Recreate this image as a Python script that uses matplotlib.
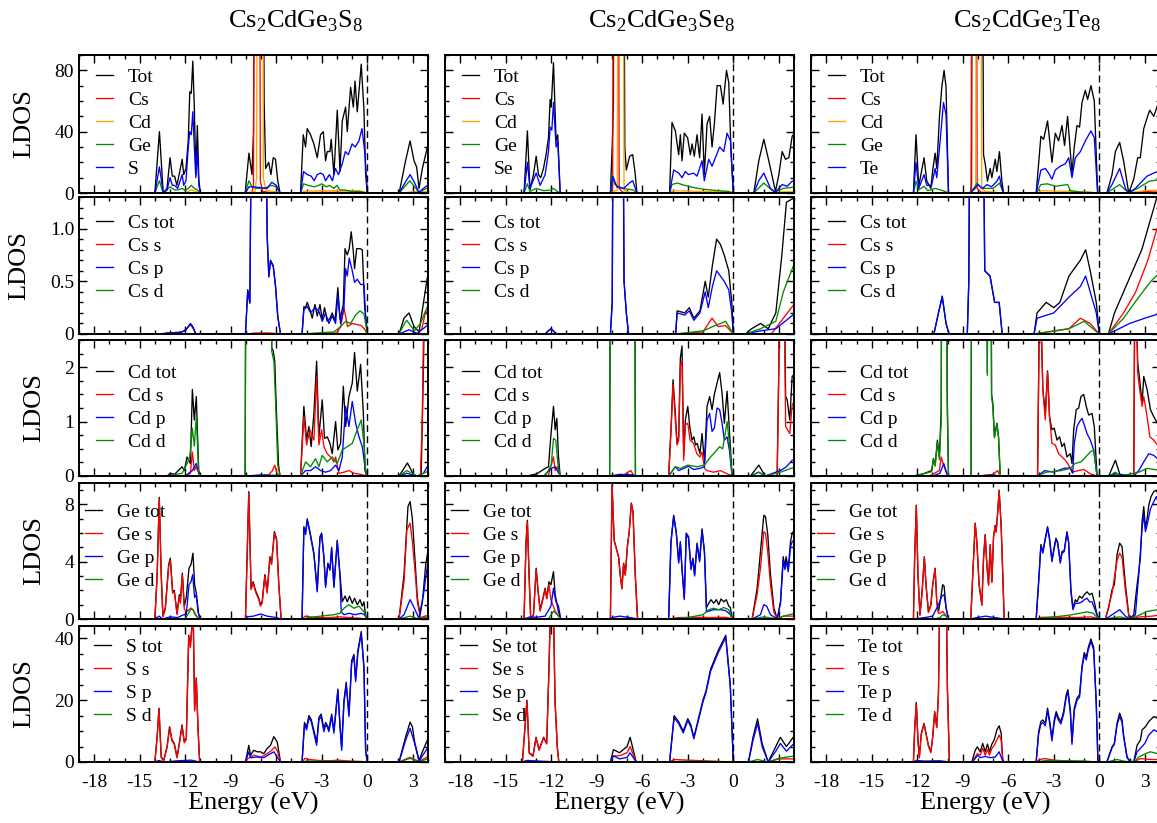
import numpy as np
import matplotlib.pyplot as plt
from matplotlib.ticker import MultipleLocator

plt.rcParams['font.family'] = ['Liberation Serif', 'DejaVu Serif']
plt.rcParams['mathtext.fontset'] = 'custom'
plt.rcParams['mathtext.rm'] = 'Liberation Serif'
plt.rcParams['axes.unicode_minus'] = False

# ---------------- data: (energy eV, LDOS) ----------------
# column 1 : Cs2CdGe3S8
S8_TOT = [(-14.0,0),(-13.7,40),(-13.45,0),(-13.2,3),(-13.0,23),(-12.85,11),(-12.7,11),(-12.55,5),(-12.4,12),(-12.2,22),(-12.1,12),(-11.95,16),(-11.8,34),(-11.7,66),(-11.6,65),(-11.5,86),(-11.4,56),(-11.3,12),(-11.2,44),(-11.1,8),(-11.0,0),
          (-8.05,0),(-7.8,26),(-7.6,12),(-7.5,40),(-7.4,300),(-6.9,300),(-6.8,60),(-6.7,16),(-6.5,20),(-6.35,12),(-6.2,23),(-6.05,22),(-5.9,8),(-5.75,0),
          (-4.4,0),(-4.22,38),(-4.07,30),(-3.96,42),(-3.74,38),(-3.52,32),(-3.3,23),(-3.08,38),(-2.9,40),(-2.75,21),(-2.64,27),(-2.46,27),(-2.38,35),(-2.2,12),(-1.98,54),(-1.8,14),(-1.65,47),(-1.43,56),(-1.32,40),(-1.1,69),(-0.92,56),(-0.81,73),(-0.66,53),(-0.4,84),(-0.22,54),(-0.11,12),(0.0,0),
          (2.1,0),(2.5,20),(2.82,34),(3.08,21),(3.25,17),(3.41,3),(3.63,16),(3.96,30),(4.1,32)]
S8_CS = [(-8.0,0),(-7.6,0.5),(-7.5,5),(-7.42,300),(-7.12,300),(-7.05,8),(-6.9,1),(-6.5,0.5),(-6.0,0),(-4.4,0),(-3.0,0.5),(-1.0,0.5),(0,0),(2.1,0),(3.0,0.5),(4.1,1)]
S8_CD = [(-12.0,0),(-11.6,2),(-11.0,0),(-8.0,0),(-7.4,1),(-7.3,10),(-7.22,300),(-6.92,300),(-6.85,10),(-6.7,2),(-6.0,0.5),(-5.7,0),(-4.4,0),(-4.2,1),(-3.0,1.5),(-1.5,1.5),(-0.5,1.5),(0,0),(2.1,0),(3.0,0.5),(4.1,1)]
S8_GE = [(-14.0,0),(-13.7,8),(-13.45,0),(-13.0,4),(-12.7,2),(-12.5,2),(-12.2,3),(-12.0,1.5),(-11.8,3),(-11.6,5),(-11.4,3),(-11.2,2),(-11.0,0),(-8.05,0),(-7.8,8),(-7.6,4),(-7.3,3),(-6.8,3),(-6.3,5),(-6.0,4),(-5.75,0),
         (-4.4,0),(-4.2,6),(-3.9,5),(-3.5,4),(-3.2,5),(-3.0,6),(-2.7,4),(-2.5,5),(-2.2,3),(-2.0,5),(-1.8,2),(-1.5,2),(-1.0,1),(-0.5,1),(0,0),(2.1,0),(2.8,8),(3.4,0.5),(4.1,4)]
S8_S = [(-14.0,0),(-13.7,17),(-13.45,0),(-13.2,2),(-13.0,10),(-12.85,5),(-12.7,5),(-12.5,3),(-12.2,12),(-12.1,5),(-11.95,8),(-11.8,30),(-11.7,40),(-11.6,38),(-11.5,53),(-11.4,30),(-11.3,10),(-11.2,28),(-11.1,5),(-11.0,0),
        (-8.05,0),(-7.8,4),(-7.5,4),(-7.0,3.5),(-6.6,3),(-6.3,7),(-6.0,5),(-5.75,0),
        (-4.4,0),(-4.2,14),(-3.96,12),(-3.7,11),(-3.5,8),(-3.3,12),(-3.08,13),(-2.9,12),(-2.75,8),(-2.5,12),(-2.3,8),(-2.1,16),(-1.9,12),(-1.65,19),(-1.45,27),(-1.25,25),(-1.0,32),(-0.8,30),(-0.55,34),(-0.35,42),(-0.15,25),(0,0),
        (2.1,0),(2.5,7),(2.82,12),(3.1,7),(3.4,0.5),(3.7,3),(4.1,6)]

S8_CS_TOT = [(-13.6,0),(-13.2,0.01),(-12.5,0.01),(-12.0,0.03),(-11.8,0.07),(-11.66,0.1),(-11.5,0.07),(-11.3,0),(-8.03,0),(-7.88,0.42),(-7.74,0.3),(-7.59,3),(-6.75,3),(-6.6,0.94),(-6.49,0.55),(-6.38,0.7),(-6.2,0.65),(-6.05,0.46),(-5.9,0.17),(-5.72,0),
             (-4.3,0),(-4.18,0.26),(-4.07,0.25),(-3.96,0.3),(-3.78,0.23),(-3.63,0.15),(-3.45,0.28),(-3.3,0.17),(-3.12,0.28),(-2.97,0.135),(-2.82,0.25),(-2.64,0.12),(-2.46,0.15),(-2.31,0.2),(-2.13,0.12),(-1.94,0.44),(-1.8,0.14),(-1.58,0.28),(-1.47,0.81),(-1.32,0.75),(-1.19,0.81),(-1.06,0.97),(-0.92,0.78),(-0.84,0.62),(-0.7,0.81),(-0.48,0.81),(-0.33,0.8),(-0.18,0.27),(0,0),
             (2.09,0),(2.42,0.15),(2.75,0.2),(3.08,0.07),(3.41,0.02),(3.63,0.23),(3.96,0.54),(4.1,0.56)]
S8_CS_S = [(-8.0,0),(-7.3,0.01),(-6.5,0.01),(-5.7,0),(-4.3,0),(-2.0,0.01),(-1.75,0.07),(-1.54,0.25),(-1.3,0.07),(-1.0,0.1),(-0.7,0.09),(-0.4,0.08),(-0.2,0.05),(0,0),(3.3,0),(3.6,0.05),(3.85,0.22),(4.1,0.15)]
S8_CS_P = [(-13.5,0),(-13.0,0.01),(-12.2,0.02),(-11.9,0.05),(-11.66,0.09),(-11.5,0.06),(-11.3,0),(-8.03,0),(-7.88,0.41),(-7.74,0.29),(-7.59,3),(-6.75,3),(-6.6,0.93),(-6.49,0.54),(-6.38,0.69),(-6.2,0.64),(-6.05,0.45),(-5.9,0.16),(-5.72,0),
           (-4.3,0),(-4.18,0.23),(-3.96,0.26),(-3.74,0.2),(-3.45,0.25),(-3.2,0.22),(-2.97,0.12),(-2.75,0.2),(-2.53,0.1),(-2.31,0.17),(-2.09,0.1),(-1.94,0.36),(-1.76,0.1),(-1.54,0.25),(-1.43,0.62),(-1.32,0.55),(-1.19,0.72),(-0.99,0.6),(-0.84,0.49),(-0.66,0.52),(-0.44,0.47),(-0.22,0.47),(-0.11,0.17),(0,0),
           (2.09,0),(2.75,0.04),(3.3,0.005),(4.1,0.1)]
S8_CS_D = [(-4.3,0),(-3.3,0.01),(-2.2,0.02),(-1.76,0.07),(-1.43,0.12),(-1.1,0.1),(-0.77,0.18),(-0.48,0.22),(-0.22,0.19),(0,0),(2.09,0),(2.42,0.09),(2.6,0.13),(3.1,0.03),(3.5,0.1),(3.96,0.26),(4.1,0.2)]

S8_CD_TOT = [(-13.2,0),(-12.98,0.05),(-12.7,0.03),(-12.21,0.17),(-12.06,0.1),(-11.88,0.35),(-11.66,0.23),(-11.53,1.59),(-11.4,1.03),(-11.27,1.46),(-11.11,0.1),(-11.0,0),(-8.05,0),(-7.95,10),(-6.45,10),(-6.3,2.36),(-6.2,2.3),(-6.1,2.11),(-6.0,1.28),(-5.85,0.2),(-5.75,0),
             (-4.4,0),(-4.18,1.28),(-4.0,0.66),(-3.85,0.91),(-3.7,0.54),(-3.52,1.15),(-3.34,2.11),(-3.19,0.72),(-2.97,1.4),(-2.82,0.69),(-2.64,0.72),(-2.46,0.6),(-2.31,0.41),(-2.09,1.0),(-1.94,0.48),(-1.76,0.6),(-1.58,1.65),(-1.43,0.91),(-1.21,1.46),(-0.99,1.71),(-0.84,2.27),(-0.66,1.56),(-0.44,2.05),(-0.26,1.15),(-0.15,0.1),(0,0),
             (2.1,0),(2.64,0.24),(3.1,0),(3.55,0),(3.7,2.0),(3.8,4),(4.1,4)]
S8_CD_S = [(-12.0,0),(-11.66,0.05),(-11.53,0.44),(-11.4,0.1),(-11.27,0.17),(-11.05,0),(-8.0,0),(-6.5,0.02),(-6.25,0.1),(-6.1,0.2),(-5.95,0.05),(-5.75,0),
           (-4.4,0),(-4.18,1.09),(-4.0,0.57),(-3.78,0.85),(-3.52,0.66),(-3.34,1.83),(-3.19,0.57),(-3.01,0.85),(-2.86,0.54),(-2.64,0.41),(-2.42,0.35),(-2.2,0.26),(-2.09,0.35),(-1.87,0.05),(-1.54,0.07),(-1.21,0.1),(-0.88,0.05),(-0.44,0.03),(0,0),(3.5,0),(3.62,1.0),(3.72,3),(4.1,4)]
S8_CD_P = [(-12.0,0),(-11.53,0.1),(-11.27,0.23),(-11.05,0),(-8.0,0),(-7.0,0.02),(-6.0,0.01),(-5.75,0),(-4.4,0),(-4.07,0.1),(-3.74,0.1),(-3.41,0.17),(-3.08,0.1),(-2.75,0.07),(-2.42,0.1),(-2.09,0.2),(-1.87,0.1),(-1.65,0.35),(-1.43,1.28),(-1.21,0.91),(-0.99,1.37),(-0.77,0.97),(-0.55,0.72),(-0.33,0.54),(-0.18,0.23),(-0.05,0),
           (2.1,0),(2.6,0.05),(3.3,0.0),(3.7,0.05),(4.1,0.25)]
S8_CD_D = [(-13.2,0),(-12.2,0.05),(-11.88,0.23),(-11.7,0.35),(-11.53,0.88),(-11.4,0.55),(-11.27,1.09),(-11.11,0.04),(-11.0,0),(-8.05,0),(-7.95,10),(-6.45,10),(-6.3,2.3),(-6.15,2.1),(-6.05,1.4),(-5.9,0.2),(-5.75,0),
           (-4.4,0),(-4.07,0.26),(-3.74,0.17),(-3.41,0.32),(-3.19,0.17),(-2.97,0.38),(-2.64,0.26),(-2.31,0.35),(-1.98,0.23),(-1.65,0.48),(-1.32,0.54),(-0.99,0.6),(-0.66,0.85),(-0.4,1.03),(-0.22,0.6),(-0.11,0.1),(0,0),(2.1,0),(2.6,0.1),(3.3,0),(4.1,0.1)]

S8_GE_TOT = [(-14.0,0),(-13.85,3.1),(-13.71,8.5),(-13.58,3.1),(-13.47,0.2),(-13.31,0.8),(-13.09,3.8),(-12.98,4.25),(-12.83,1.9),(-12.72,2.0),(-12.54,0.4),(-12.39,1.7),(-12.32,1.2),(-12.19,3.2),(-12.06,0.9),(-11.93,1.5),(-11.75,3.55),(-11.62,3.8),(-11.49,4.6),(-11.38,2.4),(-11.27,1.8),(-11.11,0.3),(-11.0,0),
             (-8.03,0),(-7.81,8.9),(-7.66,2.15),(-7.52,2.6),(-7.37,2.0),(-7.15,1.45),(-7.04,1.0),(-6.93,1.2),(-6.75,3.1),(-6.6,1.9),(-6.42,4.35),(-6.31,3.9),(-6.12,6.1),(-5.98,5.6),(-5.83,2.4),(-5.68,0),
             (-4.3,0),(-4.18,6.45),(-4.07,6.0),(-3.96,7.0),(-3.78,6.1),(-3.52,4.6),(-3.3,2.0),(-3.12,5.75),(-3.01,6.0),(-2.86,4.35),(-2.75,2.3),(-2.6,3.9),(-2.46,3.5),(-2.35,5.0),(-2.2,2.3),(-1.98,5.5),(-1.8,3.1),(-1.65,1.2),(-1.47,1.6),(-1.32,1.2),(-1.17,1.6),(-0.99,1.1),(-0.84,1.45),(-0.66,1.0),(-0.48,1.35),(-0.33,0.9),(-0.22,1.2),(-0.11,0.2),(0,0),
             (2.09,0),(2.42,3.1),(2.68,7.85),(2.82,8.2),(2.97,7.0),(3.15,4.0),(3.3,1.45),(3.48,0.3),(3.63,1.2),(3.85,3.8),(4.0,4.8),(4.1,5.0)]
S8_GE_S = [(-14.0,0),(-13.85,3.0),(-13.71,8.4),(-13.58,3.0),(-13.47,0.15),(-13.31,0.7),(-13.09,3.7),(-12.98,4.1),(-12.83,1.8),(-12.72,1.9),(-12.54,0.3),(-12.39,1.6),(-12.32,1.1),(-12.19,3.1),(-12.06,0.7),(-11.93,0.5),(-11.8,0.6),(-11.62,0.77),(-11.49,0.65),(-11.35,0.3),(-11.11,0.05),(-11.0,0),
           (-8.03,0),(-7.81,8.8),(-7.66,2.05),(-7.52,2.5),(-7.37,1.9),(-7.15,1.35),(-7.04,0.9),(-6.93,1.1),(-6.75,3.0),(-6.6,1.8),(-6.42,4.25),(-6.31,3.8),(-6.12,6.0),(-5.98,5.5),(-5.83,2.3),(-5.68,0),
           (-4.3,0),(-4.1,0.2),(-3.8,0.15),(-3.2,0.1),(-2.5,0.1),(-1.8,0.15),(-1.2,0.1),(-0.5,0.05),(0,0),(2.09,0),(2.42,2.6),(2.6,6.2),(2.82,6.7),(2.97,5.4),(3.15,3.3),(3.3,1.2),(3.5,0.1),(4.1,0.3)]
S8_GE_P = [(-14.0,0),(-13.71,0.2),(-13.5,0),(-13.0,0.15),(-12.5,0.1),(-12.1,0.3),(-11.93,0.3),(-11.75,2.4),(-11.62,2.6),(-11.51,3.1),(-11.38,1.5),(-11.27,1.7),(-11.16,0.5),(-11.0,0),(-8.03,0),(-7.9,0.15),(-7.5,0.2),(-7.04,0.35),(-6.6,0.2),(-6.0,0.1),(-5.68,0),
           (-4.3,0),(-4.18,6.35),(-4.07,5.9),(-3.96,6.9),(-3.78,6.0),(-3.52,4.5),(-3.3,1.9),(-3.12,5.65),(-3.01,5.9),(-2.86,4.25),(-2.75,2.2),(-2.6,3.8),(-2.46,3.4),(-2.35,4.9),(-2.2,2.2),(-1.98,5.4),(-1.8,3.0),(-1.72,0.5),(-1.54,0.3),(-1.2,0.4),(-0.8,0.3),(-0.4,0.4),(-0.2,0.3),(0,0),
           (2.09,0),(2.42,0.3),(2.82,1.35),(3.08,0.8),(3.4,0.05),(3.7,1.7),(4.0,4.0),(4.1,4.2)]
S8_GE_D = [(-12.0,0),(-11.62,0.7),(-11.49,0.65),(-11.2,0.1),(-11.0,0),(-4.3,0),(-3.5,0.15),(-2.2,0.3),(-1.8,0.4),(-1.54,0.75),(-1.21,1.0),(-0.88,0.75),(-0.55,0.9),(-0.22,0.5),(0,0),(2.09,0),(2.82,0.2),(3.4,0),(4.1,0.2)]

S8_S_TOT = [(-14.0,0),(-13.85,8.2),(-13.73,17.4),(-13.58,1.6),(-13.42,0.5),(-13.2,4.9),(-13.03,11.4),(-12.87,7.1),(-12.72,6.0),(-12.54,1.6),(-12.39,6.0),(-12.21,12),(-12.06,6.5),(-11.93,7.6),(-11.77,41),(-11.66,37.6),(-11.55,44.7),(-11.47,47),(-11.38,16.9),(-11.27,27.2),(-11.16,11.4),(-11.05,0),
            (-8.03,0),(-7.81,5.4),(-7.7,2.2),(-7.48,3.8),(-7.26,3.3),(-7.04,3.3),(-6.82,2.7),(-6.6,4.4),(-6.38,5.4),(-6.16,8.2),(-5.94,6.5),(-5.72,0),
            (-4.3,0),(-4.14,12.8),(-4.0,11.2),(-3.85,15),(-3.7,13.8),(-3.52,10.2),(-3.34,6.2),(-3.19,14.4),(-3.04,15.5),(-2.86,10.6),(-2.75,12.8),(-2.64,11.8),(-2.53,10.6),(-2.35,15.5),(-2.2,10.1),(-1.94,23.6),(-1.8,12.2),(-1.69,4.6),(-1.54,19.8),(-1.39,25.8),(-1.21,15.5),(-1.03,32.8),(-0.88,34.8),(-0.77,26.8),(-0.62,36.2),(-0.4,42.2),(-0.22,30.8),(-0.11,3.8),(0,0),
            (2.09,0),(2.53,8.2),(2.82,12.9),(2.97,11.4),(3.12,6.5),(3.41,0.5),(3.63,3.3),(3.96,7.1),(4.1,7.5)]
S8_S_S = [(-14.0,0),(-13.85,8.0),(-13.73,17.0),(-13.58,1.4),(-13.42,0.3),(-13.2,4.6),(-13.03,11.0),(-12.87,6.8),(-12.72,5.7),(-12.54,1.3),(-12.39,5.7),(-12.21,11.6),(-12.06,6.2),(-11.93,7.3),(-11.77,40.5),(-11.66,37),(-11.55,44),(-11.47,46.5),(-11.38,16.5),(-11.27,26.8),(-11.16,11),(-11.05,0),
          (-8.03,0),(-7.9,1.0),(-7.7,1.6),(-7.48,2.2),(-7.0,1.6),(-6.6,2.7),(-6.3,3.8),(-6.1,4.9),(-5.94,3.8),(-5.72,0),
          (-4.3,0),(-4.1,1.2),(-3.8,0.8),(-3.2,0.5),(-2.5,0.4),(-1.9,0.6),(-1.2,0.3),(-0.5,0.2),(0,0),(2.09,0),(2.8,1.5),(3.4,0.2),(4.1,2.0)]
S8_S_P = [(-14.0,0),(-13.73,0.5),(-13.4,0),(-12.5,0.4),(-11.6,0.6),(-11.05,0),(-8.03,0),(-7.81,3.3),(-7.7,1.4),(-7.26,1.6),(-6.82,1.4),(-6.38,2.7),(-6.16,3.3),(-5.94,1.6),(-5.72,0),
          (-4.3,0),(-4.14,12),(-4.0,10.4),(-3.85,14.2),(-3.7,13.2),(-3.52,9.3),(-3.34,5.4),(-3.19,13.6),(-3.04,14.7),(-2.86,9.8),(-2.75,12),(-2.64,11.4),(-2.53,9.8),(-2.35,14.7),(-2.2,9.3),(-1.94,22.9),(-1.8,11.4),(-1.69,3.8),(-1.54,19),(-1.39,25),(-1.21,14.7),(-1.03,32),(-0.88,34),(-0.77,26),(-0.62,35.4),(-0.4,41.4),(-0.22,30),(-0.11,3.5),(0,0),
          (2.09,0),(2.53,7.1),(2.82,10.9),(3.12,6.0),(3.41,0.2),(3.63,2),(3.96,4.4),(4.1,4.6)]
S8_S_D = [(-4.3,0),(-4.0,0.3),(-2.0,0.3),(0,0),(2.09,0),(2.82,1.2),(3.4,0.1),(4.1,1.2)]

# column 2 : Cs2CdGe3Se8
SE8_TOT = [(-13.79,0),(-13.57,40.5),(-13.4,2),(-13.17,12),(-12.99,24),(-12.84,12),(-12.69,10),(-12.51,16),(-12.34,25),(-12.18,36),(-12.07,61),(-12.0,56),(-11.85,85),(-11.68,34),(-11.57,38),(-11.41,0),
           (-8.1,0),(-7.98,31),(-7.9,60),(-7.85,300),(-7.25,300),(-7.15,30),(-7.05,15),(-6.83,24),(-6.63,25),(-6.46,12),(-6.35,0),
           (-4.2,0),(-4.04,46),(-3.82,40.5),(-3.6,25),(-3.49,38),(-3.38,21),(-3.23,39),(-3.01,36),(-2.83,25),(-2.72,32),(-2.57,24),(-2.39,38),(-2.22,23),(-2.06,51.5),(-1.91,12),(-1.73,45),(-1.56,50),(-1.4,30),(-1.25,45),(-1.07,70),(-0.85,70),(-0.67,58),(-0.45,80),(-0.3,72),(-0.15,27),(0,0),
           (1.35,0),(1.68,21),(2.01,35),(2.34,21),(2.78,1),(3.0,12),(3.22,27),(3.44,22),(3.66,23),(3.88,37),(4.1,40)]
SE8_CS = [(-8.1,0),(-7.95,3),(-7.87,300),(-7.6,300),(-7.52,3),(-7.3,0.5),(-6.35,0),(-4.2,0),(-2.0,0.3),(0,0),(1.35,0),(3.0,0.3),(4.1,0.5)]
SE8_CD = [(-8.1,0),(-7.65,2),(-7.57,300),(-7.28,300),(-7.2,2),(-6.9,0.5),(-6.35,0),(-4.2,0),(-4.0,1.5),(-2.0,1),(-0.5,1),(0,0),(1.35,0),(3.0,0.5),(4.1,1)]
SE8_GE = [(-13.79,0),(-13.57,6),(-13.4,1),(-13.0,3),(-12.5,1.5),(-12.0,2),(-11.85,3),(-11.6,1),(-11.41,0),(-8.1,0),(-7.98,11),(-7.8,5.5),(-7.3,3),(-6.6,2),(-6.35,0),
          (-4.2,0),(-4.04,5.5),(-3.7,6.5),(-3.2,5),(-2.6,3.5),(-2.0,2.5),(-1.0,1.5),(-0.3,1),(0,0),(1.35,0),(2.01,6.5),(2.7,0.5),(3.3,3),(4.1,4)]
SE8_SE = [(-13.79,0),(-13.57,20),(-13.4,3),(-12.99,13),(-12.73,5),(-12.4,12),(-12.18,27),(-12.07,43),(-11.96,41),(-11.85,59),(-11.68,30),(-11.57,34),(-11.41,0),
          (-8.1,0),(-7.94,11),(-7.68,4),(-7.23,3),(-6.79,7),(-6.63,8),(-6.35,0),
          (-4.2,0),(-3.93,15),(-3.6,13),(-3.38,10),(-3.16,14),(-2.95,12),(-2.62,13),(-2.39,11),(-2.06,21),(-1.91,8),(-1.62,22),(-1.4,17.5),(-1.18,23),(-0.9,30),(-0.63,27),(-0.41,39),(-0.19,34),(0,0),
          (1.35,0),(1.68,8),(2.01,13),(2.45,3),(2.78,0.5),(3.22,5.5),(3.55,4.4),(3.88,7.7),(4.1,8)]

SE8_CS_TOT = [(-12.4,0),(-12.2,0.03),(-12.0,0.05),(-11.8,0.02),(-11.6,0),(-8.1,0),(-7.98,0.3),(-7.9,3),(-7.3,3),(-7.2,0.5),(-7.05,0.2),(-6.9,0),
              (-3.8,0),(-3.7,0.22),(-3.2,0.2),(-2.9,0.25),(-2.6,0.15),(-2.2,0.22),(-1.85,0.5),(-1.65,0.35),(-1.38,0.65),(-1.1,0.9),(-0.85,0.85),(-0.6,0.75),(-0.3,0.6),(-0.1,0.3),(0,0),
              (0.8,0),(1.2,0.05),(1.8,0.1),(2.3,0.05),(2.8,0.2),(3.2,0.75),(3.5,1.25),(4.1,1.3)]
SE8_CS_S = [(-3.8,0),(-2.0,0.02),(-1.4,0.15),(-1.0,0.07),(-0.5,0.08),(0,0),(2.5,0),(3.3,0.15),(4.1,0.3)]
SE8_CS_P = [(-12.4,0),(-12.2,0.03),(-12.0,0.05),(-11.8,0.02),(-11.6,0),(-8.1,0),(-7.98,0.3),(-7.9,3),(-7.3,3),(-7.2,0.5),(-7.05,0.2),(-6.9,0),
            (-3.8,0),(-3.7,0.2),(-3.2,0.18),(-2.9,0.22),(-2.6,0.13),(-2.2,0.2),(-1.85,0.4),(-1.65,0.25),(-1.38,0.45),(-1.1,0.6),(-0.85,0.55),(-0.6,0.5),(-0.3,0.42),(-0.1,0.2),(0,0),
            (0.8,0),(1.8,0.03),(2.8,0.05),(4.1,0.2)]
SE8_CS_D = [(-3.8,0),(-2.0,0.03),(-1.2,0.08),(-0.5,0.12),(0,0),(0.8,0),(1.8,0.05),(2.8,0.12),(3.3,0.4),(4.1,0.7)]

SE8_CD_TOT = [(-13.6,0),(-12.95,0.04),(-12.4,0.14),(-12.18,0.17),(-12.03,0.72),(-11.85,1.28),(-11.74,0.85),(-11.63,1.06),(-11.52,0.35),(-11.41,0),(-8.15,0),(-8.05,10),(-6.55,10),(-6.45,0),
              (-4.26,0),(-4.1,0.91),(-3.97,1.77),(-3.82,1.15),(-3.71,0.6),(-3.6,0.72),(-3.49,2.17),(-3.38,2.39),(-3.27,0.38),(-3.16,1.03),(-3.0,1.28),(-2.87,0.91),(-2.72,0.66),(-2.6,0.72),(-2.49,0.57),(-2.38,0.6),(-2.2,0.41),(-2.06,0.78),(-1.9,0.26),(-1.73,1.28),(-1.56,1.46),(-1.4,1.22),(-1.25,1.5),(-1.07,1.71),(-0.9,1.9),(-0.74,1.52),(-0.59,0.97),(-0.41,1.56),(-0.26,0.85),(-0.08,0),
              (1.13,0),(1.68,0.2),(2.1,0),(2.89,0),(3.0,2.0),(3.07,4),(3.33,4),(3.45,1.46),(3.55,1.4),(3.72,1.03),(3.88,1.83),(4.1,1.9)]
SE8_CD_S = [(-12.2,0),(-11.85,0.35),(-11.74,0.1),(-11.6,0.17),(-11.41,0),(-8.1,0),(-7.2,0.02),(-6.9,0.08),(-6.75,0.1),(-6.55,0),
            (-4.26,0),(-4.1,0.85),(-3.97,1.68),(-3.82,1.03),(-3.71,0.57),(-3.6,0.66),(-3.49,2.02),(-3.38,2.11),(-3.27,0.29),(-3.16,0.94),(-3.0,0.97),(-2.85,0.66),(-2.62,0.6),(-2.4,0.41),(-2.2,0.35),(-2.06,0.44),(-1.9,0.14),(-1.73,0.1),(-1.3,0.07),(-0.85,0.1),(-0.4,0.04),(0,0),
            (2.89,0),(3.0,2.0),(3.07,4),(3.33,4),(3.45,0.91),(3.72,0.78),(3.88,1.31),(4.1,1.4)]
SE8_CD_P = [(-12.5,0),(-12.0,0.14),(-11.74,0.17),(-11.5,0.05),(-11.41,0),(-8.1,0),(-7.5,0.03),(-6.6,0.02),(-6.45,0),(-4.26,0),(-3.82,0.17),(-3.6,0.1),(-3.27,0.14),(-2.95,0.18),(-2.62,0.12),(-2.2,0.14),(-1.9,0.17),(-1.73,1.03),(-1.56,1.15),(-1.4,0.82),(-1.25,0.88),(-1.07,1.25),(-0.9,1.22),(-0.74,0.97),(-0.59,0.66),(-0.41,0.72),(-0.26,0.48),(-0.08,0),
            (1.13,0),(1.68,0.07),(2.1,0),(3.1,0.1),(3.5,0.17),(3.88,0.29),(4.1,0.3)]
SE8_CD_D = [(-12.4,0),(-12.0,0.2),(-11.85,0.69),(-11.7,0.66),(-11.55,0.2),(-11.41,0),(-8.15,0),(-8.05,10),(-6.55,10),(-6.45,0),
            (-4.26,0),(-3.82,0.17),(-3.49,0.14),(-3.0,0.2),(-2.4,0.17),(-1.9,0.2),(-1.5,0.35),(-1.2,0.44),(-0.9,0.54),(-0.7,0.5),(-0.41,1.0),(-0.26,0.6),(-0.08,0),(1.13,0),(1.68,0.07),(2.1,0),(3.1,0.07),(4.1,0.17)]

SE8_GE_TOT = [(-13.79,0),(-13.66,5.4),(-13.57,6.9),(-13.46,3.1),(-13.35,0),(-13.17,0.3),(-12.99,3.55),(-12.88,2.15),(-12.73,0.65),(-12.55,1.46),(-12.4,2.15),(-12.29,1.46),(-12.15,2.6),(-12.02,2.4),(-11.85,3.3),(-11.74,1.7),(-11.63,1.1),(-11.52,0.5),(-11.37,0),
              (-8.1,0),(-7.99,9.35),(-7.85,5.5),(-7.67,4.8),(-7.56,4.35),(-7.45,3.1),(-7.34,2.15),(-7.23,3.9),(-7.12,3.1),(-6.97,5.2),(-6.86,6.1),(-6.72,8.1),(-6.61,7.5),(-6.46,3.1),(-6.31,0),
              (-4.26,0),(-4.11,5.4),(-3.93,7.25),(-3.76,6.1),(-3.6,4.0),(-3.49,5.4),(-3.38,3.55),(-3.23,1.46),(-3.1,6.0),(-2.95,5.75),(-2.79,3.55),(-2.66,4.25),(-2.55,3.1),(-2.39,5.3),(-2.22,4.1),(-2.06,6.3),(-1.9,4.7),(-1.77,0.8),(-1.62,1.1),(-1.47,1.35),(-1.29,1.1),(-1.12,1.35),(-0.96,1.0),(-0.81,1.4),(-0.63,1.2),(-0.46,1.35),(-0.3,0.9),(-0.19,0.8),(-0.08,0),
              (1.24,0),(1.57,2.15),(1.79,4.7),(2.01,7.25),(2.12,7.15),(2.27,5.9),(2.45,3.1),(2.67,0.8),(2.89,0),(3.11,1.2),(3.29,4.35),(3.4,3.65),(3.48,4.35),(3.62,3.45),(3.77,5.4),(3.88,6.0),(4.1,6.3)]
SE8_GE_S = [(-13.79,0),(-13.66,5.3),(-13.57,6.8),(-13.46,3.0),(-13.35,0),(-13.17,0.25),(-12.99,3.45),(-12.88,2.05),(-12.73,0.55),(-12.55,1.36),(-12.4,2.05),(-12.29,1.4),(-12.15,2.4),(-12.02,1.35),(-11.9,1.0),(-11.74,0.55),(-11.52,0.2),(-11.37,0),
            (-8.1,0),(-7.99,9.3),(-7.85,5.45),(-7.67,4.75),(-7.56,4.3),(-7.45,3.05),(-7.34,2.1),(-7.23,3.85),(-7.12,3.05),(-6.97,5.15),(-6.86,6.05),(-6.72,8.05),(-6.61,7.45),(-6.46,3.05),(-6.31,0),
            (-4.26,0),(-3.6,0.1),(-2.5,0.12),(-1.5,0.1),(-0.5,0.12),(0,0),(1.24,0),(1.57,1.7),(1.79,3.55),(2.01,6.1),(2.12,6.0),(2.27,4.7),(2.45,2.4),(2.67,0.5),(2.89,0),(3.3,0.2),(4.1,0.2)]
SE8_GE_P = [(-13.79,0),(-13.4,0.15),(-12.99,0.12),(-12.4,0.2),(-12.02,0.9),(-11.85,2.15),(-11.69,1.2),(-11.52,0.9),(-11.37,0),(-8.1,0),(-7.99,0.1),(-7.5,0.2),(-6.8,0.1),(-6.31,0),
            (-4.26,0),(-4.11,5.3),(-3.93,7.15),(-3.76,6.0),(-3.6,3.9),(-3.49,5.3),(-3.38,3.45),(-3.23,1.36),(-3.1,5.9),(-2.95,5.65),(-2.79,3.45),(-2.66,4.15),(-2.55,3.0),(-2.39,5.2),(-2.22,4.0),(-2.06,6.2),(-1.9,4.6),(-1.77,0.5),(-1.62,0.55),(-1.3,0.65),(-0.85,0.65),(-0.5,0.58),(-0.19,0.3),(-0.08,0),
            (1.24,0),(1.79,0.3),(2.01,1.0),(2.2,0.9),(2.45,0.3),(2.89,0),(3.11,1.1),(3.29,4.1),(3.4,3.45),(3.5,4.0),(3.62,3.3),(3.77,5.05),(3.88,5.4),(4.1,5.6)]
SE8_GE_D = [(-12.2,0),(-11.85,0.55),(-11.6,0.3),(-11.37,0),(-4.26,0),(-3.0,0.1),(-2.0,0.3),(-1.62,0.65),(-1.3,0.75),(-0.96,0.65),(-0.63,0.8),(-0.3,0.65),(-0.08,0),(1.24,0),(2.01,0.15),(2.89,0),(3.3,0.2),(4.1,0.4)]

SE8_SE_TOT = [(-13.9,0),(-13.75,10),(-13.6,20),(-13.45,3),(-13.2,2),(-13.0,8),(-12.8,4),(-12.5,8),(-12.3,6),(-12.15,30),(-12.05,50),(-11.85,50),(-11.75,20),(-11.6,5),(-11.5,0),
              (-8.1,0),(-7.9,4),(-7.5,3),(-7.0,5),(-6.8,8),(-6.6,4),(-6.4,0),
              (-4.2,0),(-3.9,15),(-3.6,13),(-3.3,10),(-3.0,14),(-2.8,12),(-2.6,8),(-2.0,20),(-1.8,23),(-1.5,30),(-1.0,36),(-0.5,41),(-0.2,25),(0,0),
              (1.0,0),(1.3,8),(1.6,14),(1.9,6),(2.3,0),(2.8,5),(3.1,8),(3.5,5),(4.1,9)]
SE8_SE_S = [(-13.9,0),(-13.75,9.8),(-13.6,19.7),(-13.45,2.8),(-13.2,1.8),(-13.0,7.8),(-12.8,3.8),(-12.5,7.8),(-12.3,5.8),(-12.15,29.5),(-12.05,50),(-11.85,50),(-11.75,19.5),(-11.6,4.8),(-11.5,0),
            (-8.1,0),(-7.9,2),(-7.5,2),(-7.0,3),(-6.8,5),(-6.6,2.5),(-6.4,0),(-4.2,0),(-3.9,0.8),(-2.0,0.4),(0,0),(2.3,0),(3.0,1),(4.1,1)]
SE8_SE_P = [(-13.9,0),(-13.6,0.5),(-11.5,0),(-8.1,0),(-7.9,2),(-7.5,1),(-7.0,1.5),(-6.8,3),(-6.6,1.5),(-6.4,0),
            (-4.2,0),(-3.9,14.3),(-3.6,12.4),(-3.3,9.4),(-3.0,13.4),(-2.8,11.4),(-2.6,7.5),(-2.0,19.4),(-1.8,22.4),(-1.5,29.3),(-1.0,35.3),(-0.5,40.3),(-0.2,24.5),(0,0),
            (1.0,0),(1.3,7),(1.6,12.5),(1.9,5),(2.3,0),(2.8,3.5),(3.1,6),(3.5,3.5),(4.1,6.5)]
SE8_SE_D = [(-4.2,0),(-3.0,0.3),(0,0),(1.0,0),(1.6,0.8),(2.3,0),(3.0,1.2),(4.1,2)]

# column 3 : Cs2CdGe3Te8
TE8_TOT = [(-12.25,0),(-12.08,38),(-11.9,4.4),(-11.55,23),(-11.37,7.7),(-11.1,3),(-10.98,15),(-10.82,26),(-10.71,16),(-10.54,49),(-10.38,69),(-10.23,80),(-10.1,69),(-9.94,0),
           (-8.5,0),(-8.42,5),(-8.35,300),(-7.75,300),(-7.63,25),(-7.52,19),(-7.37,7.7),(-7.19,16),(-7.08,10),(-6.86,22),(-6.75,14),(-6.58,27),(-6.42,7.7),(-6.31,0),
           (-4.16,0),(-3.85,37),(-3.67,35),(-3.41,47),(-3.12,20),(-2.9,39),(-2.68,34),(-2.46,44),(-2.29,31),(-2.09,50),(-1.8,13),(-1.65,30),(-1.47,44),(-1.3,43),(-1.14,59),(-0.92,67),(-0.77,61),(-0.55,70),(-0.33,60),(-0.11,0),
           (0.5,0),(0.84,12),(1.06,27),(1.34,33),(1.6,21),(1.94,0),(2.27,9),(2.53,23),(2.7,23),(2.93,42),(3.15,49),(3.32,54),(3.59,50),(3.83,57),(4.1,57)]
TE8_CS = [(-8.5,0),(-8.45,3),(-8.38,300),(-8.12,300),(-8.05,3),(-7.8,0.5),(-6.31,0),(-4.16,0),(-2.0,0.3),(0,0),(2.0,0),(3.0,1),(4.1,1.5)]
TE8_CD = [(-8.5,0),(-8.15,3),(-8.08,300),(-7.82,300),(-7.75,3),(-7.5,1),(-6.31,0),(-4.16,0),(-3.8,1.5),(-2.0,1),(-0.5,0.5),(0,0),(2.0,0),(3.0,1.5),(4.1,2)]
TE8_GE = [(-12.25,0),(-12.08,7.7),(-11.9,2),(-11.55,4.4),(-11.3,1.5),(-10.82,3),(-10.3,1.5),(-9.94,0),(-8.5,0),(-8.05,6.5),(-7.75,3),(-7.0,3),(-6.58,6.5),(-6.31,0),
          (-4.16,0),(-3.85,5.5),(-3.41,6),(-2.9,4.4),(-2.46,5),(-2.09,5.5),(-1.9,1.5),(-1.3,0.7),(0,0),(0.5,0),(1.34,5.5),(1.94,0),(2.6,3.5),(3.3,7.7),(4.1,9)]
TE8_TE = [(-12.25,0),(-12.08,20),(-11.9,3),(-11.55,12),(-11.37,5),(-11.05,5),(-10.82,16),(-10.71,10),(-10.49,34),(-10.27,59),(-10.1,51),(-9.94,0),
          (-8.5,0),(-8.2,3),(-8.0,5.5),(-7.7,3),(-7.4,5.5),(-7.1,4),(-6.75,7.7),(-6.58,11),(-6.42,3),(-6.31,0),
          (-4.16,0),(-3.85,15),(-3.56,16),(-3.34,13),(-3.12,9),(-2.9,15),(-2.57,17.5),(-2.24,19),(-2.02,23),(-1.8,10),(-1.58,23),(-1.25,27),(-0.92,34),(-0.55,40.5),(-0.33,36),(-0.11,0),
          (0.5,0),(0.84,5.5),(1.34,16),(1.72,3),(1.94,0),(2.38,3),(2.71,6.5),(3.15,11),(3.59,13),(4.1,15)]

TE8_CS_TOT = [(-10.9,0),(-10.6,0.2),(-10.35,0.36),(-10.1,0.1),(-9.9,0),(-8.7,0),(-8.6,0.5),(-8.5,3),(-7.7,3),(-7.55,0.6),(-7.2,0.55),(-6.9,0.3),(-6.6,0.3),(-6.4,0),
              (-4.3,0),(-4.1,0.2),(-3.5,0.3),(-3.0,0.25),(-2.6,0.3),(-2.0,0.55),(-1.25,0.7),(-0.9,0.8),(-0.6,0.6),(-0.2,0.3),(0,0),
              (0.6,0),(1.0,0.2),(1.6,0.4),(2.2,0.6),(2.8,0.8),(3.4,1.1),(3.8,1.3),(4.1,1.35)]
TE8_CS_S = [(-4.3,0),(-2.0,0.05),(-1.25,0.15),(-0.6,0.1),(0,0),(0.6,0),(1.6,0.2),(2.4,0.4),(3.2,0.7),(3.8,1.0),(4.1,1.05)]
TE8_CS_P = [(-10.9,0),(-10.6,0.2),(-10.35,0.35),(-10.1,0.1),(-9.9,0),(-8.7,0),(-8.6,0.5),(-8.5,3),(-7.7,3),(-7.55,0.6),(-7.2,0.55),(-6.9,0.3),(-6.6,0.3),(-6.4,0),
            (-4.3,0),(-4.1,0.15),(-3.0,0.2),(-2.0,0.35),(-1.25,0.45),(-0.9,0.55),(-0.6,0.4),(-0.2,0.2),(0,0),(0.6,0),(2.0,0.1),(3.0,0.15),(4.1,0.2)]
TE8_CS_D = [(-4.3,0),(-2.0,0.05),(-1.0,0.12),(0,0),(0.6,0),(1.6,0.15),(2.6,0.35),(3.4,0.5),(4.1,0.6)]

TE8_CD_TOT = [(-12.25,0),(-11.6,0.04),(-11.05,0.1),(-10.93,0.32),(-10.82,0.2),(-10.67,0.66),(-10.54,0.35),(-10.42,1.2),(-10.33,10),(-10.15,10),(-10.02,1.5),(-9.94,0),
              (-8.45,0),(-8.38,10),(-7.45,10),(-7.38,1.9),(-7.3,10),(-7.2,10),(-7.1,1.5),(-7.02,1.34),(-6.91,0.72),(-6.75,0.97),(-6.64,0.72),(-6.53,0),
              (-4.07,0),(-3.95,3),(-3.8,2.5),(-3.72,1.59),(-3.56,1.15),(-3.41,1.93),(-3.28,1.09),(-3.12,0.85),(-2.97,0.88),(-2.79,0.66),(-2.62,0.72),(-2.46,0.54),(-2.31,0.6),(-2.13,0.35),(-1.91,0.41),(-1.8,0.23),(-1.69,0.85),(-1.52,1.22),(-1.36,1.25),(-1.21,1.46),(-1.03,1.5),(-0.86,1.28),(-0.7,1.12),(-0.48,1.15),(-0.33,0.91),(-0.15,0),
              (0.62,0),(1.06,0.29),(1.39,0),(2.27,0),(2.33,3),(2.45,3),(2.53,2.08),(2.66,1.77),(2.82,1.34),(2.93,1.83),(3.15,1.59),(3.37,1.22),(3.59,1.09),(3.83,0.97),(4.1,0.95)]
TE8_CD_S = [(-11.2,0),(-10.54,0.1),(-10.42,0.35),(-10.3,0.23),(-10.0,0),(-8.0,0),(-7.0,0.03),(-6.7,0.1),(-6.53,0),
            (-4.07,0),(-3.95,3),(-3.8,2.4),(-3.72,1.59),(-3.56,1.03),(-3.41,1.9),(-3.28,1.09),(-3.12,0.6),(-2.9,0.57),(-2.68,0.41),(-2.46,0.35),(-2.24,0.29),(-2.02,0.2),(-1.8,0.07),(-1.36,0.1),(-1.03,0.12),(-0.59,0.04),(-0.15,0),
            (2.27,0),(2.33,3),(2.45,3),(2.53,1.9),(2.66,1.59),(2.82,1.28),(2.93,1.46),(3.15,1.09),(3.33,0.72),(3.59,0.66),(3.83,0.57),(4.1,0.55)]
TE8_CD_P = [(-11.0,0),(-10.5,0.05),(-10.25,0.23),(-10.0,0),(-8.0,0),(-7.0,0.02),(-6.53,0),(-4.07,0),(-3.6,0.1),(-3.0,0.07),(-2.35,0.14),(-1.9,0.15),(-1.75,0.05),(-1.65,0.6),(-1.47,0.91),(-1.3,1.0),(-1.14,1.06),(-0.99,0.94),(-0.81,0.78),(-0.59,0.66),(-0.37,0.48),(-0.15,0),
            (0.62,0),(1.06,0.04),(2.27,0),(2.6,0.1),(2.93,0.26),(3.26,0.41),(3.59,0.38),(3.83,0.32),(4.1,0.3)]
TE8_CD_D = [(-12.25,0),(-11.6,0.04),(-11.05,0.08),(-10.93,0.3),(-10.82,0.18),(-10.67,0.62),(-10.54,0.3),(-10.42,1.0),(-10.33,10),(-10.15,10),(-10.02,1.2),(-9.94,0),
            (-8.45,0),(-8.38,10),(-7.45,10),(-7.38,1.85),(-7.3,10),(-7.2,10),(-7.1,1.45),(-7.02,1.3),(-6.91,0.7),(-6.75,0.95),(-6.64,0.7),(-6.53,0),
            (-4.07,0),(-3.5,0.07),(-2.5,0.1),(-1.91,0.14),(-1.6,0.23),(-1.2,0.26),(-0.9,0.35),(-0.6,0.44),(-0.37,0.48),(-0.15,0),(0.62,0),(1.06,0.07),(1.39,0),(2.6,0.07),(3.15,0.14),(4.1,0.1)]

TE8_GE_TOT = [(-12.25,0),(-12.17,4.25),(-12.06,7.95),(-11.95,3.1),(-11.82,0.3),(-11.68,1.9),(-11.53,4.35),(-11.42,2.4),(-11.26,0.5),(-11.1,1.0),(-10.98,2.4),(-10.82,3.55),(-10.71,1.2),(-10.6,0.5),(-10.49,1.2),(-10.32,2.4),(-10.23,2.3),(-10.1,0.8),(-9.94,0),
              (-8.47,0),(-8.34,3.1),(-8.18,6.7),(-8.07,5.4),(-7.92,2.4),(-7.74,1.0),(-7.63,4.25),(-7.52,5.9),(-7.41,3.8),(-7.3,2.4),(-7.19,5.2),(-7.08,2.6),(-6.97,5.75),(-6.86,6.55),(-6.8,6.1),(-6.71,7.25),(-6.6,9.0),(-6.47,6.55),(-6.36,3.1),(-6.27,0),
              (-4.16,0),(-4.0,2.6),(-3.85,5.2),(-3.72,4.7),(-3.56,5.65),(-3.41,6.45),(-3.28,5.65),(-3.12,4.1),(-3.01,4.8),(-2.86,5.65),(-2.75,5.4),(-2.57,4.0),(-2.46,4.7),(-2.31,4.8),(-2.13,6.1),(-2.02,5.4),(-1.87,2.05),(-1.74,0.77),(-1.58,1.35),(-1.47,1.2),(-1.3,1.6),(-1.14,1.45),(-0.99,1.7),(-0.81,1.9),(-0.64,1.7),(-0.48,1.8),(-0.33,1.2),(-0.15,0.3),(-0.05,0),
              (0.4,0),(0.62,0.8),(0.84,2.05),(0.99,2.4),(1.17,4.5),(1.34,5.3),(1.5,5.05),(1.72,2.4),(1.94,0.3),(2.05,0),(2.27,0.3),(2.49,2.4),(2.6,3.3),(2.71,4.35),(2.82,6.8),(2.93,7.85),(3.04,6.35),(3.15,7.0),(3.26,7.95),(3.41,8.55),(3.59,8.9),(3.76,9.0),(3.83,8.8),(4.1,8.9)]
TE8_GE_S = [(-12.25,0),(-12.17,4.2),(-12.06,7.9),(-11.95,3.05),(-11.82,0.25),(-11.68,1.85),(-11.53,4.3),(-11.42,2.35),(-11.26,0.45),(-11.1,0.95),(-10.98,2.35),(-10.82,3.5),(-10.71,1.15),(-10.6,0.4),(-10.49,0.4),(-10.32,0.53),(-10.15,0.3),(-9.94,0),
            (-8.47,0),(-8.34,3.05),(-8.18,6.65),(-8.07,5.35),(-7.92,2.35),(-7.74,0.95),(-7.63,4.2),(-7.52,5.85),(-7.41,3.75),(-7.3,2.35),(-7.19,5.15),(-7.08,2.55),(-6.97,5.7),(-6.86,6.5),(-6.8,6.05),(-6.71,7.2),(-6.6,8.95),(-6.47,6.5),(-6.36,3.05),(-6.27,0),
            (-4.16,0),(-3.8,0.12),(-2.5,0.12),(-1.5,0.1),(-0.5,0.15),(0,0),(0.4,0),(0.84,1.8),(1.17,4.1),(1.34,4.6),(1.5,4.3),(1.72,2.0),(1.94,0.2),(2.05,0),(2.7,0.15),(3.5,0.2),(4.1,0.3)]
TE8_GE_P = [(-12.25,0),(-11.5,0.1),(-10.98,0.2),(-10.6,1.0),(-10.38,1.6),(-10.23,1.7),(-10.05,0.5),(-9.94,0),(-8.47,0),(-8.2,0.07),(-7.5,0.2),(-6.9,0.1),(-6.27,0),
            (-4.16,0),(-4.0,2.5),(-3.85,5.1),(-3.72,4.6),(-3.56,5.55),(-3.41,6.35),(-3.28,5.55),(-3.12,4.0),(-3.01,4.7),(-2.86,5.55),(-2.75,5.3),(-2.57,3.9),(-2.46,4.6),(-2.31,4.7),(-2.13,6.0),(-2.02,5.3),(-1.87,1.9),(-1.74,0.65),(-1.58,1.1),(-1.36,1.1),(-1.14,1.2),(-0.99,1.35),(-0.81,1.45),(-0.64,1.2),(-0.48,1.2),(-0.3,0.7),(-0.05,0),
            (0.4,0),(0.7,0.2),(1.17,0.53),(1.34,0.65),(1.72,0.2),(2.05,0),(2.38,0.3),(2.6,3.1),(2.82,6.35),(2.93,7.3),(3.04,6.1),(3.2,6.8),(3.37,7.7),(3.59,8.2),(3.76,8.55),(3.83,8.3),(4.1,8.4)]
TE8_GE_D = [(-10.9,0),(-10.5,0.1),(-10.32,0.3),(-10.1,0.2),(-9.94,0),(-4.16,0),(-3.5,0.1),(-2.5,0.2),(-1.8,0.3),(-1.3,0.4),(-0.81,0.5),(-0.4,0.4),(-0.05,0),(0.4,0),(1.0,0.1),(1.34,0.15),(2.05,0),(2.7,0.3),(3.15,0.53),(3.83,0.65),(4.1,0.65)]

TE8_TE_TOT = [(-12.25,0),(-12.17,10.4),(-12.06,19.3),(-11.95,7.1),(-11.86,1.6),(-11.73,9.3),(-11.55,12.5),(-11.42,9.3),(-11.26,5.4),(-11.1,3.3),(-10.98,8.2),(-10.85,16.3),(-10.71,11.4),(-10.6,22.3),(-10.5,60),(-10.1,60),(-10.01,24),(-9.88,0),
              (-8.4,0),(-8.18,3.8),(-8.03,4.9),(-7.85,3.3),(-7.68,6.0),(-7.52,3.3),(-7.37,5.8),(-7.24,3.3),(-7.08,5.8),(-6.93,7.1),(-6.75,10.4),(-6.6,11.7),(-6.47,9.3),(-6.36,0.5),(-6.27,0),
              (-4.16,0),(-4.0,9.8),(-3.85,13.1),(-3.72,13.6),(-3.56,12.5),(-3.41,17.4),(-3.28,13.6),(-3.12,7.6),(-2.97,13.6),(-2.84,16.3),(-2.68,14.2),(-2.53,13.1),(-2.35,16.3),(-2.18,21.8),(-2.07,23.4),(-1.91,16.9),(-1.8,6.5),(-1.65,17.4),(-1.47,20.7),(-1.3,21.8),(-1.14,31),(-0.99,35.4),(-0.86,33.8),(-0.73,37),(-0.55,39.8),(-0.37,37),(-0.2,19.1),(-0.09,0),
              (0.5,0),(0.84,4.9),(0.99,6.0),(1.17,12.5),(1.34,15.8),(1.5,13.6),(1.6,8.7),(1.83,1.6),(2.05,0),(2.27,0),(2.49,5.4),(2.71,7.1),(2.82,10.4),(3.04,11.4),(3.26,13.1),(3.59,14.7),(3.83,14.2),(4.1,14.5)]
TE8_TE_S = [(-12.25,0),(-12.17,10.1),(-12.06,19.0),(-11.95,6.8),(-11.86,1.3),(-11.73,9.0),(-11.55,12.2),(-11.42,9.0),(-11.26,5.1),(-11.1,3.0),(-10.98,7.9),(-10.85,16.0),(-10.71,11.1),(-10.6,22),(-10.5,60),(-10.1,60),(-10.01,23.6),(-9.88,0),
            (-8.4,0),(-8.18,1.6),(-8.03,2.7),(-7.85,2.2),(-7.68,4.4),(-7.52,2.2),(-7.37,4.0),(-7.24,2.2),(-7.08,4.4),(-6.93,5.4),(-6.75,7.1),(-6.6,8.7),(-6.47,7.1),(-6.36,0.5),(-6.27,0),
            (-4.16,0),(-3.95,0.8),(-3.56,1.1),(-3.0,0.6),(-2.0,0.3),(-1.0,0.2),(-0.09,0),(2.27,0),(2.71,1.1),(3.4,0.8),(4.1,0.8)]
TE8_TE_P = [(-12.25,0),(-12.06,0.5),(-11.5,0.3),(-10.5,0.4),(-9.88,0),(-8.4,0),(-8.18,1.1),(-8.03,2.2),(-7.85,1.4),(-7.52,1.8),(-7.2,1.4),(-6.86,1.6),(-6.6,3.3),(-6.4,0.7),(-6.27,0),
            (-4.16,0),(-4.0,9.0),(-3.85,12.3),(-3.72,12.8),(-3.56,11.7),(-3.41,16.6),(-3.28,12.8),(-3.12,6.8),(-2.97,12.8),(-2.84,15.5),(-2.68,13.4),(-2.53,12.3),(-2.35,15.5),(-2.18,21.0),(-2.07,22.6),(-1.91,16.1),(-1.8,5.7),(-1.65,16.6),(-1.47,19.9),(-1.3,21.0),(-1.14,30.2),(-0.99,34.6),(-0.86,33.0),(-0.73,36.2),(-0.55,39.0),(-0.37,36.2),(-0.2,18.5),(-0.09,0),
            (0.5,0),(0.84,4.6),(0.99,5.7),(1.17,12.0),(1.34,14.7),(1.5,12.8),(1.6,8.2),(1.83,1.4),(2.05,0),(2.27,0),(2.49,3.3),(2.71,4.4),(3.0,6.0),(3.26,8.7),(3.59,10.4),(3.83,9.8),(4.1,10)]
TE8_TE_D = [(-4.16,0),(-3.5,0.5),(-1.0,0.3),(-0.09,0),(0.5,0),(1.17,0.8),(1.6,0.3),(2.05,0),(2.38,0.5),(2.6,1.6),(3.04,2.7),(3.37,3.3),(3.83,2.7),(4.1,2.8)]

TITLES = ['Cs$_2$CdGe$_3$S$_8$', 'Cs$_2$CdGe$_3$Se$_8$', 'Cs$_2$CdGe$_3$Te$_8$']
ANIONS = ['S', 'Se', 'Te']
ROW_YLIM = [90, 1.3, 2.5, 9.5, 44]
ROW_MAJOR = [40, 0.5, 1, 4, 20]
ROW_MINOR = [10, 0.1, 0.25, 1, 5]
ROW_TICKFMT = ['{:.0f}', '{:.1f}', '{:.0f}', '{:.0f}', '{:.0f}']

PANELS = [
    [(S8_TOT, S8_CS, S8_CD, S8_GE, S8_S), (S8_CS_TOT, S8_CS_S, S8_CS_P, S8_CS_D), (S8_CD_TOT, S8_CD_S, S8_CD_P, S8_CD_D),
     (S8_GE_TOT, S8_GE_S, S8_GE_P, S8_GE_D), (S8_S_TOT, S8_S_S, S8_S_P, S8_S_D)],
    [(SE8_TOT, SE8_CS, SE8_CD, SE8_GE, SE8_SE), (SE8_CS_TOT, SE8_CS_S, SE8_CS_P, SE8_CS_D), (SE8_CD_TOT, SE8_CD_S, SE8_CD_P, SE8_CD_D),
     (SE8_GE_TOT, SE8_GE_S, SE8_GE_P, SE8_GE_D), (SE8_SE_TOT, SE8_SE_S, SE8_SE_P, SE8_SE_D)],
    [(TE8_TOT, TE8_CS, TE8_CD, TE8_GE, TE8_TE), (TE8_CS_TOT, TE8_CS_S, TE8_CS_P, TE8_CS_D), (TE8_CD_TOT, TE8_CD_S, TE8_CD_P, TE8_CD_D),
     (TE8_GE_TOT, TE8_GE_S, TE8_GE_P, TE8_GE_D), (TE8_TE_TOT, TE8_TE_S, TE8_TE_P, TE8_TE_D)],
]

BLACK, RED, ORANGE, GREEN, BLUE = 'black', '#ff0000', '#ffa500', '#008c00', '#0000ff'

W, H = 1157., 823.
fig = plt.figure(figsize=(W / 100, H / 100), dpi=100)

col_left = [79, 445, 811]
col_w = 349
row_top = [55, 197, 340, 483, 626]
row_bot = [193, 334, 476, 619, 762]
leg_x = [17, 17, 17, 6, 15]   # px from the left frame to the legend handles
leg_y = [13, 17, 24, 20, 12]  # px from the top frame to the first legend row

for c in range(3):
    an = ANIONS[c]
    for r in range(5):
        ax = fig.add_axes([col_left[c] / W, 1 - row_bot[r] / H, col_w / W, (row_bot[r] - row_top[r]) / H])
        curves = PANELS[c][r]
        if r == 0:
            colors = [BLACK, RED, ORANGE, GREEN, BLUE]
            labels = ['Tot', 'Cs', 'Cd', 'Ge', an]
        else:
            el = ['Cs', 'Cd', 'Ge', an][r - 1]
            colors = [BLACK, RED, BLUE, GREEN]
            labels = [el + ' tot', el + ' s', el + ' p', el + ' d']
        handles = []
        for pts, col in zip(curves, colors):
            e, v = np.array(pts).T
            ln, = ax.plot(e, v, color=col, lw=0.95)
            handles.append(ln)
        ax.axvline(0, color='black', lw=1.0, ls=(0, (5, 3)))
        ax.set_xlim(-19, 4)
        ax.set_ylim(0, ROW_YLIM[r])
        ax.xaxis.set_major_locator(MultipleLocator(3))
        ax.xaxis.set_minor_locator(MultipleLocator(1))
        ax.yaxis.set_major_locator(MultipleLocator(ROW_MAJOR[r]))
        ax.yaxis.set_minor_locator(MultipleLocator(ROW_MINOR[r]))
        ax.tick_params(which='both', direction='in', top=True, right=True, width=1.0, labelsize=14)
        ax.tick_params(which='major', length=6)
        ax.tick_params(which='minor', length=3)
        ax.tick_params(axis='x', pad=8.5)
        for s in ax.spines.values():
            s.set_linewidth(1.4)
        if r < 4:
            ax.set_xticklabels([])
        else:
            ax.set_xticks([-18, -15, -12, -9, -6, -3, 0, 3])
            ax.set_xticklabels(['-18', '-15', '-12', '-9', '-6', '-3', '0', '3'])
            ax.set_xlabel('Energy (eV)', fontsize=19, labelpad=1)
        if c == 0:
            ticks = np.arange(0, ROW_YLIM[r] + 1e-9, ROW_MAJOR[r])
            ax.set_yticks(ticks)
            ax.set_yticklabels([ROW_TICKFMT[r].format(t) if t != 0 else '0' for t in ticks])
            ax.set_ylabel('LDOS', fontsize=19, labelpad=14)
        else:
            ax.set_yticklabels([])
        ax.legend(handles, labels, loc='upper left', frameon=False, fontsize=14,
                  bbox_to_anchor=(leg_x[r] / col_w, 1 - leg_y[r] / (row_bot[r] - row_top[r])),
                  borderpad=0, borderaxespad=0, handlelength=0.85, handletextpad=0.8, labelspacing=0.28)
        if r == 0:
            ax.set_title(TITLES[c], fontsize=19, pad=20, x=0.62)

fig.savefig('out.png', dpi=100)
